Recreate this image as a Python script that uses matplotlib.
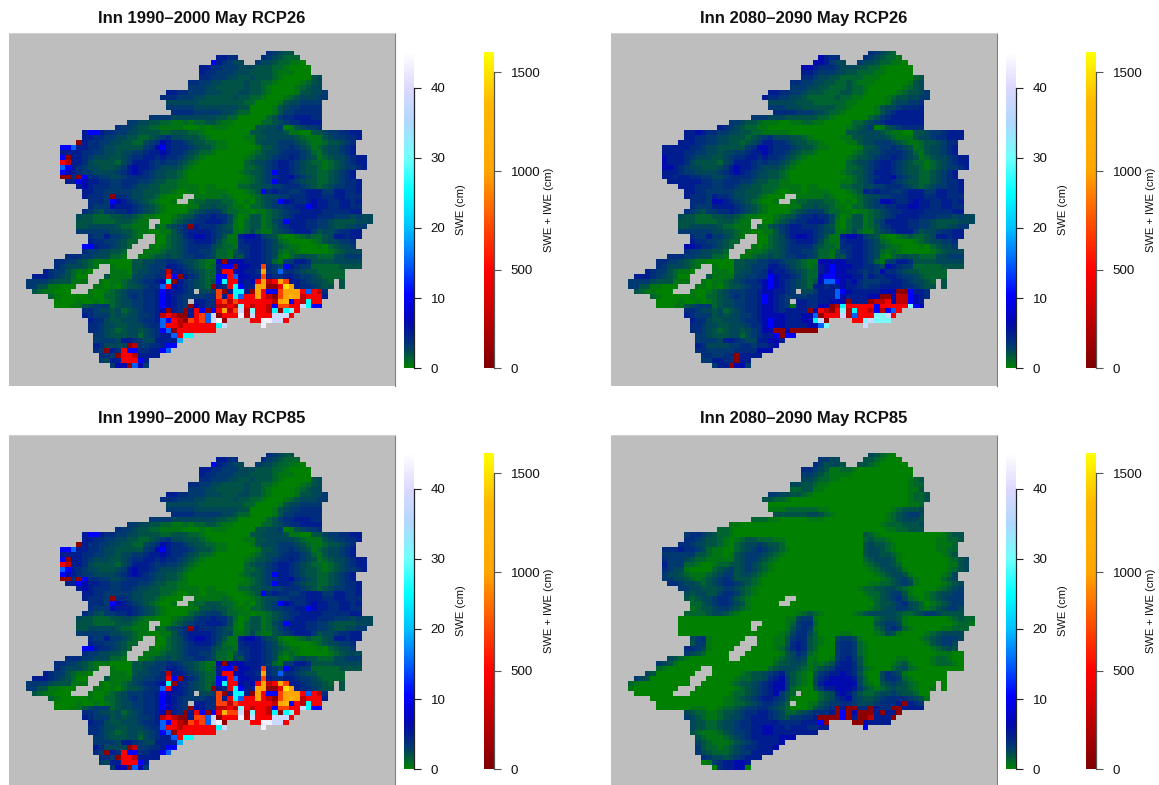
import numpy as np
import matplotlib
matplotlib.use("Agg")
import matplotlib.pyplot as plt
from matplotlib.colors import LinearSegmentedColormap, Normalize
from matplotlib.cm import ScalarMappable

plt.rcParams["font.family"] = ["Liberation Sans", "DejaVu Sans"]

W, H = 1159, 785
N_COLS, N_ROWS = 62, 64

TITLES = ["Inn 1990\u20132000 May RCP26", "Inn 2080\u20132090 May RCP26",
          "Inn 1990\u20132000 May RCP85", "Inn 2080\u20132090 May RCP85"]
SWE_TICKS = [0, 10, 20, 30, 40]
ICE_TICKS = [0, 500, 1000, 1500]
SWE_MAX = 45.1
ICE_MAX = 1605

# first and last+1 map column of each row, shared by all panels
ROW_START = [43, 34, 33, 31, 31, 31, 29, 29, 25, 24, 25, 25, 26, 22, 18, 16,
             10, 10, 9, 6, 6, 6, 6, 6, 6, 6, 7, 9, 10, 10, 11, 11,
             10, 9, 9, 9, 9, 11, 11, 10, 10, 7, 5, 5, 3, 1, 0, 0,
             1, 4, 5, 5, 10, 10, 11, 11, 11, 12, 12, 12, 12, 13, 13, 15]
ROW_END = [48, 49, 50, 51, 51, 53, 53, 53, 54, 54, 53, 53, 53, 53, 53, 53,
           60, 60, 59, 59, 59, 61, 61, 61, 59, 59, 60, 60, 60, 60, 60, 60,
           60, 62, 62, 61, 60, 60, 59, 59, 60, 60, 60, 60, 57, 57, 57, 57,
           54, 54, 53, 53, 49, 48, 47, 43, 34, 30, 28, 27, 26, 24, 22, 22]
HOLES = {1: [38, 39, 40, 41], 2: [39, 40], 29: [28, 29], 30: [27, 28], 34: [22, 23],
         35: [22], 37: [21, 22], 38: [20, 21, 22], 39: [19, 20, 21], 40: [18, 19, 20],
         41: [18, 19], 43: [13, 14], 44: [12, 13, 14], 45: [11, 12, 13], 46: [11, 12, 55],
         47: [9, 10, 11, 55], 48: [8, 9, 10, 30], 50: [29], 54: [36, 37, 38, 39],
         55: [36, 37, 38, 39, 40, 41]}

# cell codes: 0-9 a-f are SWE classes, A-G are SWE + IWE classes
SWE_CODES = dict(zip("0123456789abcdef",
                     [0, 0.6, 1.3, 2.0, 2.6, 3.2, 4, 5, 6.5, 10.5, 15, 19, 25, 31, 38, 43]))
ICE_CODES = dict(zip("ABCDEFG", [60, 250, 480, 700, 1000, 1300, 1500]))

GRID_HIST = [
    "654333",
    "7766" "4444" "654322",
    "976544" "44" "5443221100",
    "776655544433322100000",
    "766555444333321110000",
    "66555443343332100000345",
    "6655443333433221000012344",
    "5554433333433210000123445",
    "776655544433344332100001334455",
    "6665554433333433221000123444555",
    "4444443333333322" "0000" "134455555",
    "555554444444433" "0000" "1345566666",
    "66665555544322" "0000" "1355666666",
    "5555" "444444443322" "00000" "23566777667",
    "554433" "2211212233" "211" "00000" "223456677776",
    "6554" "3322" "1111000101" "110" "0000" "3344501345566",
    "79976655" "44333322" "3332210000" "0000" "33444431100" "3345566777",
    "77665544" "33223456" "4433321000" "000" "11" "3344444321" "1134556677",
    "A" "7665544" "3322" "45687" "665433" "2211" "0000" "1" "3444555432" "112334566",
    "99a" "77665443" "3333" "56897" "666543" "3211" "0000" "01" "334556543" "123445677",
    "777" "76655443" "4455" "67787" "665432" "2100" "0000" "12" "344566654" "213445677",
    "9A77" "6544433" "4566" "77676" "654321" "0000" "000" "123" "345667654" "31234456777",
    "CB77" "6433332" "4577" "76565" "543210" "0000" "000" "234" "456776543" "22123456777",
    "a976" "5443334" "5787" "76544" "432100" "0000" "000" "223" "456776543" "32123455677",
    "9876" "5544445" "6787" "65443" "321000" "0000" "001" "23" "345" "9" "776543" "322345677",
    "AA6A9" "665544" "5666" "65443" "321000" "0000" "00012" "3456778654" "322345677",
    "7798" "776655" "6665" "54332" "211000" "0000" "00112" "345" "9" "776543" "3223456677",
    "78" "766655" "6654" "43322" "211110" "1100" "00223" "3445566654" "3234556677",
    "776655" "55544" "33322" "100" "1101111" "000" "123" "9" "67665567" "7755776677",
    "76665" "A" "66544" "33210" "001" "11" "11112" "1000" "123" "44556667" "7766776667",
    "6665" "9" "87654" "32100" "11" "11" "223332" "21010" "2345" "9" "87667" "8776677677",
    "6555" "8" "77765" "43210" "00011" "33433" "21102" "234556677" "9" "8776677667",
    "6543" "5566765" "43210" "000" "2345553" "221101" "123456677" "7766666777",
    "4332" "22334" "4321" "1000" "1233" "566766" "420" "133" "1234" "56777" "7666555" "45445",
    "33322" "223332" "11" "11" "00" "2345" "667776" "410" "233" "1245" "9" "7776" "655433" "334443",
    "33444" "4432211" "1" "1" "21" "3456" "A" "766654" "310" "233" "1" "23567" "776" "65543344556",
    "55" "5555443" "32110" "011" "3567" "777654" "41124" "2113" "456777" "5344566777",
    "655" "7" "55432" "1" "11" "002" "3467" "88765" "311" "7887" "543" "100" "123" "2234776778",
    "76655" "4322" "111" "002" "3456" "77764" "211" "6777" "654" "210000" "123445567",
    "99" "7665" "432" "111" "1012" "3456" "66643" "221" "6677" "654" "321100" "010234455",
    "65544" "332" "111" "11123" "3456" "6554" "2213" "5677" "654" "212100" "0001234443",
    "666" "55444" "221" "11" "112334" "34556" "654" "221" "43" "677" "654" "102" "3433" "222445553",
    "66554" "3211" "10000" "334455" "6654" "43211" "8" "A" "88877" "765" "21" "55776" "3333444443",
    "65444" "321" "11" "1000" "334555" "7765" "43212" "7" "9" "9" "A" "8877" "D" "654" "9" "7655" "2222233333",
    "7655" "32110" "111" "1110" "344556" "B" "776" "54322" "7" "CC" "887" "76" "E" "65" "a" "6654" "33222223",
    "7776" "543200" "111" "31111" "445566" "C" "9" "A" "765322" "99" "C" "a" "8877" "D" "76677655" "4322223",
    "5555" "4333" "111" "11" "1011" "2345667" "8" "c" "A" "7654323" "9" "c" "CC" "878" "C" "E" "B" "C" "E" "D" "776544" "323" "3",
    "5533" "11000" "111" "11010" "2334566" "a" "C" "8" "765432" "A" "76" "C" "c" "9" "77" "EE" "AA" "C" "G" "E" "76654" "333" "3",
    "3211000" "111" "1001" "23455" "5667" "9" "8" "7765" "1" "445" "D" "A" "7" "cc" "7" "A" "E" "C" "99" "D" "EEE" "C" "a" "C" "B" "65",
    "2100000" "10022" "3456" "5667" "9" "87655" "5566" "D" "7" "C" "c" "a" "C" "C" "E" "C" "B" "A" "D" "E" "F" "E" "B" "C" "C" "C" "76",
    "0000" "100101" "23445" "5667" "9" "8765" "1" "7766" "C" "D" "B" "D" "CCCCCC" "B" "E" "F" "9" "C" "B" "c" "CC" "7",
    "00011" "34555" "23445" "5667" "9" "8765" "A" "8766" "BB" "C" "B" "d" "C" "B" "CC" "B" "9" "DD" "CC" "e" "c" "999",
    "66544" "34234" "5667" "8" "A" "76" "A" "7" "C" "9" "A" "9" "C" "E" "B" "D" "e" "B" "d" "CC" "B" "c" "A" "c" "d" "C",
    "76555" "34344" "5567" "B" "C" "BAA" "7" "C" "D" "a" "e" "A" "CCC" "f" "B" "e" "CCC" "eee" "C",
    "76643" "3444" "5667" "a" "9" "C" "B" "A" "D" "C" "D" "a" "e" "f" "A" "1111" "CC" "ffee" "C",
    "66544" "3344" "4566" "a" "C" "C" "B" "CC" "CCCC" "c" "e" "111111" "f",
    "66543" "2344" "3456" "9" "a" "A" "C" "CCCCCC",
    "5543" "3344" "2456" "77" "a" "C" "cc",
    "55554" "7765" "4477" "77" "b",
    "764444" "AB" "5566" "7" "99",
    "65" "A" "76" "C" "99" "6677" "9" "a",
    "665" "A" "CCB" "7777",
    "54" "77" "CCC" "9" "7",
    "5" "88" "A" "a" "8" "5",
]

GRID_26 = [
    "654322",
    "8766" "4444" "65432211",
    "887544" "44" "5443221100",
    "887666544433221000000",
    "776555443322211000000",
    "66544332222111000000233",
    "6655443322321110000001345",
    "5554433222322100000012345",
    "776655433322233221000001233455",
    "7665544322222322110000123344555",
    "44444333222222110000013445566",
    "55544433333322100001344566677",
    "6666555443221000001356777776",
    "55544433333322100000023567777776",
    "554332111001122110000022345677777776",
    "76543221100000000000000123450134566667",
    "778766554433221111100000000003344443211003345567777",
    "776655443332345644433210000011334444321113445667777",
    "777665544332345776654332210000113445554321123345667",
    "777" "77665443" "3333" "56887" "666543" "3211" "0000" "01" "334556543" "123445677",
    "777" "76655443" "4455" "67787" "665432" "2100" "0000" "12" "344566654" "213445677",
    "8777" "6544433" "4566" "77676" "654321" "0000" "000" "123" "345667654" "31234456777",
    "8777" "6433332" "4577" "76565" "543210" "0000" "000" "234" "456776543" "22123456777",
    "8876" "5443334" "5787" "76544" "432100" "0000" "000" "223" "456776543" "32123455677",
    "7776" "5544445" "6787" "65443" "321000" "0000" "001" "23" "345" "7" "776543" "322345677",
    "77677" "665544" "5666" "65443" "321000" "0000" "00012" "3456778654" "322345677",
    "7777" "776655" "6665" "54332" "211000" "0000" "00112" "345" "7" "776543" "3223456677",
    "77" "766655" "6654" "43322" "211110" "1100" "00223" "3445566654" "3234556677",
    "776655" "55544" "33322" "100" "1101111" "000" "123" "7" "67665567" "7755776677",
    "76665" "7" "66544" "33210" "001" "11" "11112" "1000" "123" "44556667" "7766776667",
    "6665" "8" "87654" "32100" "11" "11" "223332" "21010" "2345" "8" "87667" "8776677677",
    "6555" "7" "77765" "43210" "00011" "33433" "21102" "234556677" "8" "8776677667",
    "6543" "5566765" "43210" "000" "2345553" "221101" "123456677" "7766666777",
    "4332" "22334" "4321" "1000" "1233" "566766" "420" "133" "1234" "56777" "7666555" "45445",
    "33322" "223332" "11" "11" "00" "2345" "667776" "410" "233" "1245" "7" "7776" "655433" "334443",
    "33444" "4432211" "1" "1" "21" "3456" "7" "766654" "310" "233" "1" "23567" "776" "65543344556",
    "55" "5555443" "32110" "011" "3567" "777654" "41124" "2113" "456777" "5344566777",
    "655" "7" "55432" "1" "11" "002" "3467" "88765" "311" "7887" "543" "100" "123" "2234776778",
    "76655" "4322" "111" "002" "3456" "77764" "211" "6777" "654" "210000" "123445567",
    "88" "7665" "432" "111" "1012" "3456" "66643" "221" "6677" "654" "321100" "010234455",
    "65544" "332" "111" "11123" "3456" "6554" "2213" "5677" "654" "212100" "0001234443",
    "666" "55444" "221" "11" "112334" "34556" "654" "221" "43" "677" "654" "102" "3433" "222445553",
    "66554" "3211" "00000" "334455" "6654" "43211" "8" "8" "88877" "765" "21" "55776" "3333444443",
    "65444" "321" "11" "1000" "334555" "7765" "43212" "7" "8" "9" "8" "8877" "6" "654" "8" "7655" "2222233333",
    "7655" "32110" "111" "1110" "344556" "8" "776" "54322" "7" "89" "887" "76" "5" "65" "8" "6654" "33222223",
    "7776" "543200" "111" "31111" "445566" "9" "8" "7" "765322" "89" "9" "8" "8877" "5" "76677655" "4322223",
    "5555" "4333" "111" "11" "1011" "2345667" "8" "9" "8" "7654323" "8" "a" "a9" "878" "6" "5" "5" "5" "6" "6" "776544" "323" "3",
    "5533" "11000" "111" "11010" "2334566" "8" "9" "8" "765432" "7" "76" "7" "7" "8" "77" "65" "66" "7" "7" "7" "76654" "333" "3",
    "3211000" "111" "1001" "23455" "5667" "8" "8" "7765" "1" "445" "777a9877777888AA97765",
    "2100000" "10022" "3456" "5667" "9" "87655" "5566" "777a8777788AA8BB98765",
    "0000" "100101" "23445" "5667" "9" "8765" "1" "7766" "77888A777ABBC8BB9876",
    "00011" "34555" "23445" "5667" "8" "8765" "1" "7766" "88ABcCCCCC9CCCCCd988",
    "66544" "34234" "5667" "8" "8" "76" "7" "7" "77A8CBACdBcCCB9B9aC",
    "76555" "34344" "5567" "8" "8" "887" "7" "788aACCCeBaCCCddeC",
    "76643" "3444" "5667" "8" "9" "887778" "8" "c" "e" "A" "1111" "CC" "d" "e" "dd" "d",
    "66544" "3344" "4566" "8" "9" "88777788" "a" "d" "111111" "e",
    "66543" "2344" "3456" "88" "AA" "8" "AAAAA",
    "5543" "3344" "2456" "77" "9" "A" "99",
    "55554" "7765" "4477" "887",
    "76444" "45566" "5667" "8",
    "66555" "5566" "66" "88" "8",
    "665566" "A" "7777",
    "557766" "A" "77",
    "5" "77" "A" "88" "5",
]

GRID_85 = [
    "432100",
    "5544" "0000" "33210000",
    "653443" "00" "3321000000",
    "665431122100000000000",
    "554321111000000000000",
    "44322110000000000001233",
    "4433211000000000000001223",
    "2233110000000000000001134",
    "554433210000000000000000012233",
    "3322100000000000000000000012233",
    "00000000000000000000000001123",
    "11122222211000000000001233344",
    "3333334432100000000012345544",
    "22211000001110000000000012344433",
    "110000000000000000000000000122233344",
    "22100000000000000000000000000011223334",
    "56654322100000000000000000000000" "3210000000000012330",
    "665433210" "123322211" "00000000000000" "23221" "00000000" "112233",
    "6654433210" "234454332" "00000000000000" "34332" "10000000" "11123",
    "6667665421" "100" "234565432" "1" "0000000000000" "34432" "10000000" "11223",
    "5555553321" "101" "345554321" "0" "0000000000000" "34433" "21000000" "01233",
    "6555432211" "111" "345543210" "0" "0000000000000" "23444" "31000000" "0012345",
    "7555221001" "223" "345432100" "0" "0000000000000" "12344" "32000000" "0011345",
    "6544100002" "345" "345432100" "0" "0000000000000" "01234" "43100000" "0012345",
    "5443211123" "455" "344321000" "0" "0000000000000" "00123" "44310000" "01245",
    "5544321234" "565" "333210000" "0" "0000000000000" "00012" "34531000" "02345",
    "665443234" "566" "543210000" "0" "0000000000000" "01122" "34541000" "012345",
    "5544333" "455" "43210000" "0" "0000000000000" "12233" "44321000" "0123455",
    "4344" "3356" "65321000" "0" "0000000000000" "00122" "34553100" "12344553",
    "3234" "4566" "53210000" "0" "0000000000000" "00012" "34564210" "1234555",
    "2234" "5665" "43100000" "0" "0000000000000" "00023" "34564320" "1234554",
    "1233" "4554" "32100000" "0" "0000000000000" "00123" "44554321" "2345544",
    "2222" "3443" "2100000" "0" "00001232100" "00012" "34444432" "2345543",
    "000000000000000000011" "455" "10000000000" "23443" "1000000" "012322",
    "000000000000000000012" "566" "20000000000" "34554" "1000000" "001221",
    "00000000000000000001" "3565" "10000000000" "23565" "210000" "011222",
    "0000000000000000001" "24664" "2000" "01" "10000" "1243" "10000" "1234444",
    "456" "10000000000011" "35663" "2100" "4554" "100000000001" "2345554",
    "355" "10000000000011" "36763" "2100" "5665" "210000000000" "134554",
    "6654" "10000000000012" "46763" "2000" "5665" "210000000000" "012343",
    "5432" "00000000000001" "34652" "1000" "5665" "210000000000" "0011100",
    "432" "1000" "00000000000012" "34541" "1001" "5675" "310000011000" "0122100",
    "543" "100000" "00000000000023" "34431" "2123" "6776" "310000123100" "0122210",
    "210" "000000" "00000000000234" "44321" "2345" "7776" "421000234210" "0000000",
    "43000000000" "00000012334" "567" "43210" "3567" "7876" "3100" "4654" "10000000",
    "5430000000000" "00000122334" "678" "53210" "4678" "8887" "4200" "4665" "21000000",
    "21000000000000" "00001233456" "788" "53210" "4788" "8888" "4210" "3454" "32100000",
    "10000000000000" "00000123456" "788" "52100" "3577" "8887" "5321" "2343" "32100100",
    "0000000000000" "0000122345" "6785" "321000" "234" "787" "532" "23445" "433200",
    "0000000000" "0001123456" "7765" "310000" "234" "678" "543" "34566" "665431",
    "000000000" "0001122345" "6654" "200011" "345" "566" "544" "45666" "7" "A" "765",
    "00000" "0111" "0012234556" "6543" "20001" "3456" "A" "7" "AA" "66" "A" "766" "AA" "7777",
    "4322" "1123345667" "76542" "23456" "667" "A" "9" "A" "8" "AAA" "7" "A" "77" "A",
    "5432" "1123445677" "76543" "55667" "AAAA" "9" "A" "7" "AA" "B" "777" "A",
    "4332" "234456677" "77766" "66777" "9" "A" "1111" "AA" "8" "7777",
    "4332" "234456677" "88776" "77766" "77" "111111" "9",
    "3211" "123455677" "88777" "77777",
    "3211" "12345677" "777888",
    "4321" "11234567" "7778",
    "5322" "1234566" "7778",
    "5432" "223455" "7777",
    "654" "43456" "777",
    "015677887",
    "0677880",
]

# panel 3 differs from panel 1 in only a few cells: (row, col, code)
HIST85_CHANGES = [(19, 8, "a"), (50, 34, "D"), (52, 35, "F"), (52, 36, "D"), (53, 30, "D")]


def decode(rows, changes=()):
    swe = np.full((N_ROWS, N_COLS), np.nan)
    ice = np.full((N_ROWS, N_COLS), np.nan)
    for r, text in enumerate(rows):
        start, end = ROW_START[r], ROW_END[r]
        n = end - start
        text = text[:n].ljust(n, text[-1])
        for i, code in enumerate(text):
            c = start + i
            if c in HOLES.get(r, []):
                continue
            if code in ICE_CODES:
                ice[r, c] = ICE_CODES[code]
            else:
                swe[r, c] = SWE_CODES[code]
    for r, c, code in changes:
        swe[r, c] = ice[r, c] = np.nan
        if code in ICE_CODES:
            ice[r, c] = ICE_CODES[code]
        else:
            swe[r, c] = SWE_CODES[code]
    return swe, ice


swe_cmap = LinearSegmentedColormap.from_list("swe", [
    (0, "#008000"), (1.0 / SWE_MAX, "#006a28"), (2.0 / SWE_MAX, "#005048"),
    (3.0 / SWE_MAX, "#003c6c"), (4.0 / SWE_MAX, "#002a80"), (5.0 / SWE_MAX, "#001c90"),
    (6.5 / SWE_MAX, "#0008b0"), (10.5 / SWE_MAX, "#0000ff"), (15 / SWE_MAX, "#0060ff"),
    (20 / SWE_MAX, "#00c0ff"), (25 / SWE_MAX, "#00ffff"), (30 / SWE_MAX, "#70ffff"),
    (35 / SWE_MAX, "#b0d8ff"), (40 / SWE_MAX, "#dcd8ff"), (1, "#ffffff")])
ice_cmap = LinearSegmentedColormap.from_list("ice", [
    (0, "#7f0000"), (500 / ICE_MAX, "#ff0000"), (1000 / ICE_MAX, "#ffa500"),
    (1350 / ICE_MAX, "#ffb800"), (1, "#ffff00")])


def pixel_axes(fig, x0, y0, x1, y1):
    return fig.add_axes([x0 / W, 1 - y1 / H, (x1 - x0) / W, (y1 - y0) / H])


def draw_bar(fig, x0, top, bottom, cmap, vmax, ticks, label, label_x, line):
    cax = pixel_axes(fig, x0, top, x0 + 10, bottom)
    sm = ScalarMappable(Normalize(0, vmax), cmap)
    cb = fig.colorbar(sm, cax=cax, ticks=ticks)
    cb.outline.set_visible(False)
    cax.spines["right"].set_visible(False)
    cax.tick_params(length=4.8, width=0.8, color=line, labelsize=9.6, pad=7, labelcolor="#111111")
    # axis line from the first to the last tick
    cax.plot([1, 1], [ticks[0], ticks[-1]], color=line, lw=0.9, clip_on=False,
             transform=cax.get_yaxis_transform())
    fig.text(label_x / W, 1 - (top + bottom) / 2 / H, label, rotation=90, fontsize=8,
             ha="center", va="center", color="#111111")


def draw_panel(fig, x_off, y_off, bar_off, title, rows, changes=()):
    ax = pixel_axes(fig, 9 + x_off, 33 + y_off, 395 + x_off, 386 + y_off)
    ax.set_facecolor("#bebebe")
    swe, ice = decode(rows, changes)
    ax.pcolormesh(np.ma.masked_invalid(swe), cmap=swe_cmap, vmin=0, vmax=SWE_MAX)
    ax.pcolormesh(np.ma.masked_invalid(ice), cmap=ice_cmap, vmin=0, vmax=ICE_MAX)
    ax.set_xlim(-3.04, N_COLS + 3.99)
    ax.set_ylim(N_ROWS + 3.63, -3.53)
    ax.set_xticks([])
    ax.set_yticks([])
    for name in ["left", "bottom"]:
        ax.spines[name].set_visible(False)
    ax.spines["top"].set_color("#d0d0d0")
    ax.spines["right"].set_color("#808080")
    fig.text((202 + x_off) / W, 1 - (18 + bar_off) / H, title, fontsize=12, fontweight="bold",
             ha="center", va="center", color="#111111")
    draw_bar(fig, 404.3 + x_off, 51.7 + bar_off, 368.3 + bar_off, swe_cmap, SWE_MAX, SWE_TICKS,
             "SWE (cm)", 461 + x_off, "#222222")
    draw_bar(fig, 484.3 + x_off, 51.7 + bar_off, 368.3 + bar_off, ice_cmap, ICE_MAX, ICE_TICKS,
             "SWE + IWE (cm)", 549 + x_off, "#555555")


fig = plt.figure(figsize=(W / 100, H / 100), dpi=100)
draw_panel(fig, 0, 0, 0, TITLES[0], GRID_HIST)
draw_panel(fig, 602, 0, 0, TITLES[1], GRID_26)
draw_panel(fig, 0, 402, 401, TITLES[2], GRID_HIST, HIST85_CHANGES)
draw_panel(fig, 602, 402, 401, TITLES[3], GRID_85)
fig.savefig("out.png", dpi=100)
